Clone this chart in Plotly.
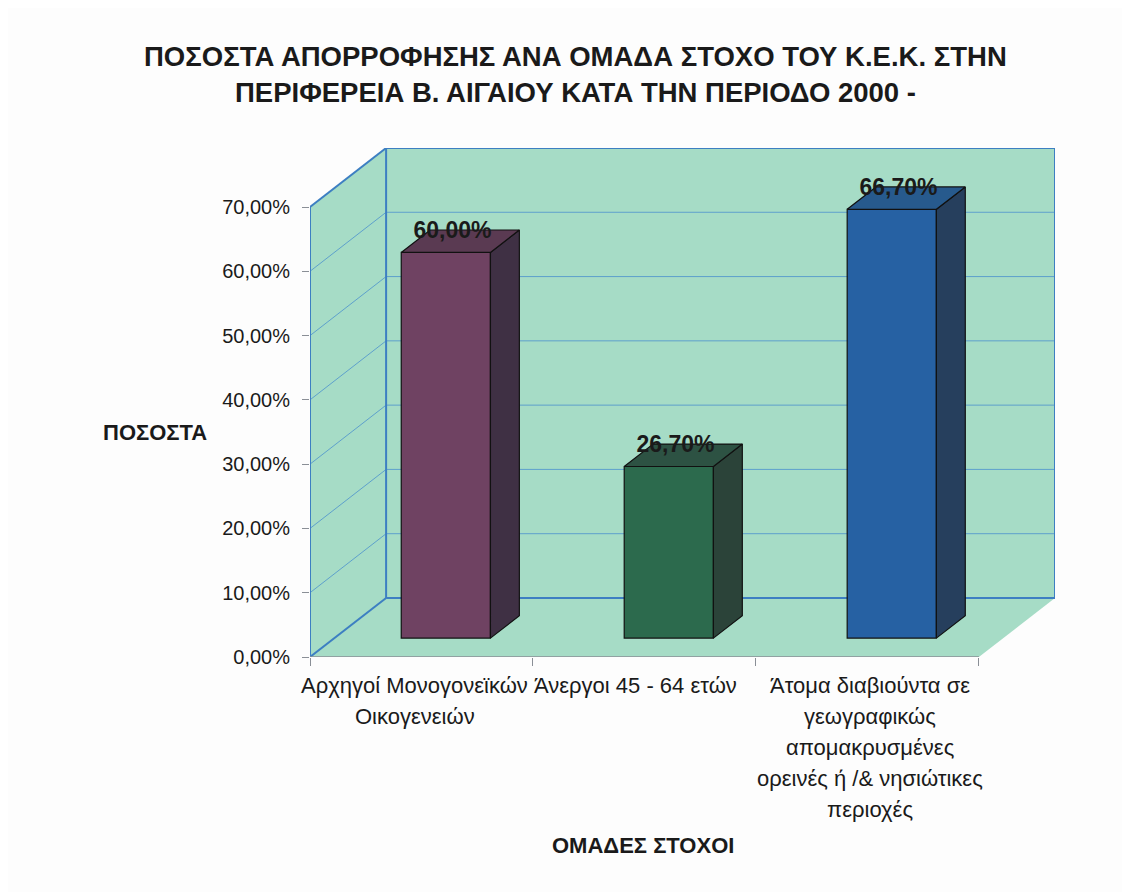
import plotly.graph_objects as go

# ---- data ----
categories = [
    ["Αρχηγοί Μονογονεϊκών", "Οικογενειών"],
    ["Άνεργοι 45 - 64 ετών"],
    ["Άτομα διαβιούντα σε", "γεωγραφικώς", "απομακρυσμένες", "ορεινές ή /& νησιώτικες", "περιοχές"],
]
values = [60.0, 26.7, 66.7]
value_labels = ["60,00%", "26,70%", "66,70%"]
y_ticks = [0, 10, 20, 30, 40, 50, 60, 70]
y_tick_labels = ["0,00%", "10,00%", "20,00%", "30,00%", "40,00%", "50,00%", "60,00%", "70,00%"]
title_lines = ["ΠΟΣΟΣΤΑ ΑΠΟΡΡΟΦΗΣΗΣ ΑΝΑ ΟΜΑΔΑ ΣΤΟΧΟ ΤΟΥ Κ.Ε.Κ. ΣΤΗΝ",
               "ΠΕΡΙΦΕΡΕΙΑ Β. ΑΙΓΑΙΟΥ ΚΑΤΑ ΤΗΝ ΠΕΡΙΟΔΟ 2000 -"]
y_title = "ΠΟΣΟΣΤΑ"
x_title = "ΟΜΑΔΕΣ ΣΤΟΧΟΙ"

# ---- styling / 3D projection ----
front_colors = ["#6f4262", "#2c6a4d", "#2661a3"]
top_colors = ["#5a3a52", "#2d5243", "#275a8d"]
side_colors = ["#3f3044", "#2b4339", "#263f5d"]
label_dx = [-0.03, -0.04, 0.01]
DX = 0.3413   # depth shift along x (category units)
DY = 9.18     # depth shift along y (percent units)
F1, F2 = 0.32, 0.70   # bar front/back depth fractions
BW = 0.40
YMAX = 70
n = len(values)
wall = "#a6dcc6"
edge = "#3d7fc2"
grid = "rgba(70,140,205,0.75)"
FONT = "Liberation Sans, Arial, sans-serif"
TXT = "#1a1a1a"

# page offset (body margin) and layout in figure pixels
OFF = 8
W, H = 1130 - OFF, 892 - OFF
ML, MR, MT, MB = 310 - OFF, 1130 - 1055, 148 - OFF, 892 - 657
PW, PH = W - ML - MR, H - MT - MB


def px(xp):
    return (xp - OFF - ML) / PW


def py(yp):
    return (H - (yp - OFF) - MB) / PH


fig = go.Figure()

centers = [i + 0.5 for i in range(n)]

# front faces as bars
fig.add_trace(go.Bar(
    x=[c + F1 * DX for c in centers], y=values, base=[F1 * DY] * n, width=BW,
    marker=dict(color=front_colors, line=dict(color="#111111", width=1.2)),
    showlegend=False, hoverinfo="skip"))

# top and side faces
for c, v, tc, sc in zip(centers, values, top_colors, side_colors):
    xl, xr = c - BW / 2, c + BW / 2
    fig.add_trace(go.Scatter(
        x=[xr + F1 * DX, xr + F2 * DX, xr + F2 * DX, xr + F1 * DX, xr + F1 * DX],
        y=[F1 * DY, F2 * DY, v + F2 * DY, v + F1 * DY, F1 * DY],
        fill="toself", fillcolor=sc, mode="lines",
        line=dict(color="#111111", width=1.2), showlegend=False, hoverinfo="skip"))
    fig.add_trace(go.Scatter(
        x=[xl + F1 * DX, xr + F1 * DX, xr + F2 * DX, xl + F2 * DX, xl + F1 * DX],
        y=[v + F1 * DY, v + F1 * DY, v + F2 * DY, v + F2 * DY, v + F1 * DY],
        fill="toself", fillcolor=tc, mode="lines",
        line=dict(color="#111111", width=1.2), showlegend=False, hoverinfo="skip"))

# value labels
fig.add_trace(go.Scatter(
    x=[c + F1 * DX + 0.03 for c in centers], y=[v + F2 * DY - 0.4 for v in values],
    mode="text", text=value_labels, textposition="middle center",
    textfont=dict(family=FONT, size=23, color=TXT, weight="bold"),
    showlegend=False, hoverinfo="skip"))

shapes = []
# back wall
shapes.append(dict(type="rect", xref="x", yref="y", x0=DX, x1=n + DX, y0=DY, y1=YMAX + DY,
                   fillcolor=wall, line=dict(width=0), layer="below"))
# side wall
shapes.append(dict(type="path", xref="x", yref="y",
                   path=f"M0,0 L{DX},{DY} L{DX},{YMAX + DY} L0,{YMAX} Z",
                   fillcolor=wall, line=dict(width=0), layer="below"))
# floor
shapes.append(dict(type="path", xref="x", yref="y",
                   path=f"M0,0 L{n},0 L{n + DX},{DY} L{DX},{DY} Z",
                   fillcolor=wall, line=dict(width=0), layer="below"))
# gridlines
for t in y_ticks[1:-1]:
    shapes.append(dict(type="line", xref="x", yref="y", x0=DX, x1=n + DX, y0=t + DY, y1=t + DY,
                       line=dict(color=grid, width=1), layer="below"))
    shapes.append(dict(type="line", xref="x", yref="y", x0=0, x1=DX, y0=t, y1=t + DY,
                       line=dict(color=grid, width=1), layer="below"))
# wall edges
edges = [
    (0, 0, 0, YMAX), (0, YMAX, DX, YMAX + DY), (DX, YMAX + DY, n + DX, YMAX + DY),
    (n + DX, YMAX + DY, n + DX, DY), (DX, DY, DX, YMAX + DY), (DX, DY, n + DX, DY),
    (0, 0, DX, DY),
]
for x0, y0, x1, y1 in edges:
    shapes.append(dict(type="line", xref="x", yref="y", x0=x0, x1=x1, y0=y0, y1=y1,
                       line=dict(color=edge, width=2), layer="below"))
# front floor edge (axis line)
shapes.append(dict(type="line", xref="x", yref="y", x0=0, x1=n, y0=0, y1=0,
                   line=dict(color="#8a8f96", width=1.5), layer="below"))

annotations = []
# category labels
line_gap = 31
for c, lines, dx in zip(centers, categories, label_dx):
    for i, ln in enumerate(lines):
        annotations.append(dict(x=c + dx, y=0, xref="x", yref="y", text=ln, showarrow=False,
                                yanchor="middle", xanchor="center", yshift=-28 - i * line_gap,
                                font=dict(family=FONT, size=22, color=TXT)))
# title
for i, ln in enumerate(title_lines):
    annotations.append(dict(x=px(575), y=py(57 + i * 35), xref="paper", yref="paper", text=ln,
                            showarrow=False, xanchor="center", yanchor="middle",
                            font=dict(family=FONT, size=27.5, color=TXT, weight="bold")))
annotations.append(dict(x=px(155), y=py(432), xref="paper", yref="paper",
                        text=f"<b>{y_title}</b>", showarrow=False, xanchor="center",
                        yanchor="middle", font=dict(family=FONT, size=22, color=TXT)))
annotations.append(dict(x=px(643), y=py(845), xref="paper", yref="paper",
                        text=f"<b>{x_title}</b>", showarrow=False, xanchor="center",
                        yanchor="middle", font=dict(family=FONT, size=22, color=TXT)))

fig.update_layout(
    width=W, height=H,
    margin=dict(l=ML, r=MR, t=MT, b=MB, autoexpand=False),
    paper_bgcolor="#fdfdfd", plot_bgcolor="rgba(0,0,0,0)",
    showlegend=False,
    font=dict(family=FONT, size=20, color=TXT),
    xaxis=dict(range=[0, n + DX], tickmode="array", tickvals=[0, 1, 2, 3], ticks="outside",
               ticklen=8, tickcolor="#8a8f96", showticklabels=False, showgrid=False,
               zeroline=False, showline=False, fixedrange=True),
    yaxis=dict(range=[0, YMAX + DY], tickmode="array", tickvals=y_ticks, ticktext=y_tick_labels,
               ticks="outside", ticklen=7, tickcolor="#8a8f96", ticklabelstandoff=8,
               tickfont=dict(family=FONT, size=20, color=TXT),
               showgrid=False, zeroline=False, showline=False, fixedrange=True),
    shapes=shapes,
    annotations=annotations,
)

fig.write_html("out.html")
